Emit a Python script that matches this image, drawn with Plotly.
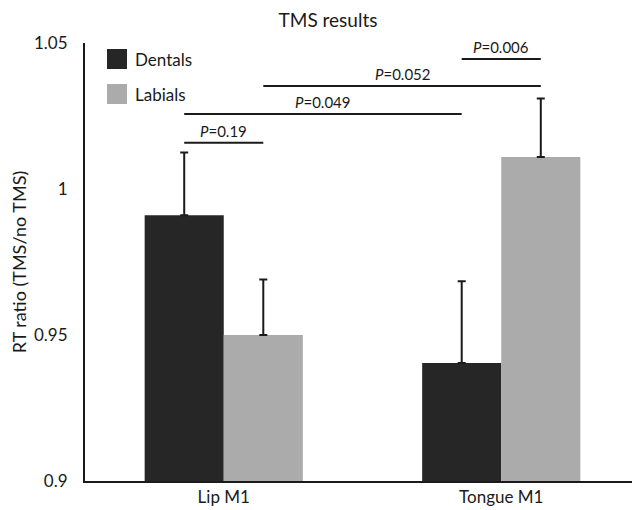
import plotly.graph_objects as go

title = "TMS results"
categories = ["Lip M1", "Tongue M1"]
series_names = ["Dentals", "Labials"]
dentals = [0.991, 0.9404]
labials = [0.950, 1.011]
dentals_err = [0.0215, 0.028]
labials_err = [0.019, 0.020]
y_ticks = [0.9, 0.95, 1.0, 1.05]
y_tick_labels = ["0.9", "0.95", "1", "1.05"]
y_title = "RT ratio (TMS/no TMS)"
# comparisons: (cat index, series index) pairs, bracket level, p-value label
comp_from = [(0, 0), (0, 0), (0, 1), (1, 0)]
comp_to = [(0, 1), (1, 0), (1, 1), (1, 1)]
comp_level = [1.0158, 1.0257, 1.0353, 1.0445]
comp_p = ["0.19", "0.049", "0.052", "0.006"]

colors = ["#262626", "#ababab"]
FONT = "Lato"
bargap = 0.43
bar_w = (1 - bargap) / 2

# page body has an 8px margin; figure is sized to fill the rest of the window
W, H = 632, 502
ML, MR, MT, MB = 77, 0, 35, 29
PW, PH = W - ML - MR, H - MT - MB

fig = go.Figure()
for name, vals, errs, col in zip(series_names, [dentals, labials], [dentals_err, labials_err], colors):
    fig.add_trace(go.Bar(
        x=categories, y=vals, name=name, marker=dict(color=col, line=dict(width=0)),
        error_y=dict(type="data", array=errs, arrayminus=[0] * len(errs), symmetric=False,
                     color="#1a1a1a", thickness=2, width=4),
        showlegend=False,
    ))

def bar_center(ci, si):
    return ci - (1 - bargap) / 2 + bar_w * (si + 0.5)

for (a, b), lvl, p in zip(zip(comp_from, comp_to), comp_level, comp_p):
    x0 = bar_center(*a)
    x1 = bar_center(*b)
    fig.add_shape(type="line", xref="x", yref="y", x0=x0, x1=x1, y0=lvl, y1=lvl,
                  line=dict(color="#1a1a1a", width=2))
    fig.add_annotation(x=(x0 + x1) / 2, y=lvl, xref="x", yref="y", text="<i>P</i>=" + p,
                       showarrow=False, yanchor="bottom", yshift=1,
                       font=dict(family=FONT, size=15, color="#1a1a1a"))

# legend drawn manually with large swatches (pixel positions relative to plot area)
for i, (name, col) in enumerate(zip(series_names, colors)):
    ytop = 6 + i * 35
    fig.add_shape(type="rect", xref="paper", yref="paper",
                  x0=22 / PW, x1=42 / PW,
                  y0=1 - ytop / PH, y1=1 - (ytop + 20) / PH,
                  fillcolor=col, line=dict(width=0))
    fig.add_annotation(xref="paper", yref="paper", x=48 / PW, y=1 - (ytop + 10) / PH,
                       text=name, showarrow=False, xanchor="left", yanchor="middle",
                       font=dict(family=FONT, size=17, color="#1a1a1a"))

fig.update_layout(
    width=W, height=H,
    margin=dict(l=ML, r=MR, t=MT, b=MB, pad=0),
    plot_bgcolor="white", paper_bgcolor="white",
    barmode="group", bargap=bargap, bargroupgap=0,
    font=dict(family=FONT, size=17, color="#1a1a1a"),
    title=dict(text=title, x=320 / W, xanchor="center", y=1 - 12 / H, yanchor="middle",
               font=dict(family=FONT, size=19, color="#1a1a1a")),
    xaxis=dict(range=[-0.5, 1.5], showline=True, linewidth=2, linecolor="#1a1a1a",
               showgrid=False, ticks="", tickfont=dict(family=FONT, size=17), zeroline=False),
    yaxis=dict(range=[0.9, 1.05], tickvals=y_ticks, ticktext=y_tick_labels,
               showline=True, linewidth=2, linecolor="#1a1a1a", showgrid=False, zeroline=False,
               ticks="", ticklabelstandoff=12, tickfont=dict(family=FONT, size=17),
               title=dict(text=y_title, font=dict(family=FONT, size=18), standoff=14)),
)

fig.write_html("out.html")
